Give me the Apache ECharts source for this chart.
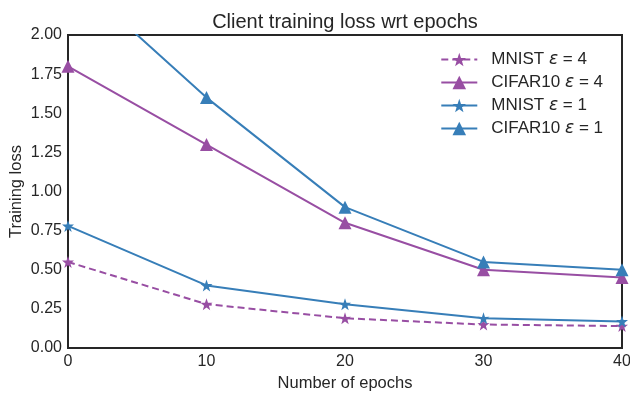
<!DOCTYPE html>
<html><head><meta charset="utf-8">
<script src="https://cdn.jsdelivr.net/npm/echarts@6/dist/echarts.min.js"></script>
<style>html,body{margin:0;padding:0;background:#fff}#c{width:630px;height:394px}</style>
</head><body><div id="c"></div>
<script>
const epochs = [0, 10, 20, 30, 40];
const mnistEps4 = [0.55, 0.28, 0.19, 0.15, 0.14];
const cifarEps4 = [1.80, 1.30, 0.80, 0.50, 0.45];
const mnistEps1 = [0.78, 0.40, 0.28, 0.19, 0.17];
const cifarEps1 = [2.40, 1.60, 0.90, 0.55, 0.50];
const yTicks = [0, 0.25, 0.5, 0.75, 1.0, 1.25, 1.5, 1.75, 2.0];
const names = ['MNIST ε4', 'CIFAR10 ε4', 'MNIST ε1', 'CIFAR10 ε1'];
const labels = {'MNIST ε4': ['MNIST ', '4'], 'CIFAR10 ε4': ['CIFAR10 ', '4'], 'MNIST ε1': ['MNIST ', '1'], 'CIFAR10 ε1': ['CIFAR10 ', '1']};

const PURPLE = '#984ea3', BLUE = '#377eb8';
const STAR = 'path://M50,0 L61.8,35.1 L97.6,34.5 L69,56.7 L79.4,90.5 L50,70 L20.6,90.5 L31,56.7 L2.4,34.5 L38.2,35.1 Z';
const font = 'Liberation Sans, Arial, sans-serif';

function pairs(vals) { return epochs.map((e, i) => [e, vals[i]]); }
function mk(name, vals, color, symbol, size, dashed) {
  return {
    name, type: 'line', data: pairs(vals), clip: true,
    symbol, symbolSize: size,
    lineStyle: { color, width: 2, type: dashed ? [7, 4] : 'solid' },
    itemStyle: { color },
    emphasis: { disabled: true }
  };
}

const chart = echarts.init(document.getElementById('c'), null, { renderer: 'canvas' });
chart.setOption({
  animation: false,
  backgroundColor: '#fff',
  title: { text: 'Client training loss wrt epochs', left: 340, top: 7, textAlign: 'center',
    textStyle: { fontFamily: font, fontSize: 20, fontWeight: 'normal', color: '#262626' } },
  grid: { left: 68, right: 8, top: 35, bottom: 46, containLabel: false, outerBoundsMode: 'none',
    show: true, borderColor: '#262626', borderWidth: 2, backgroundColor: 'transparent' },
  legend: {
    data: names, right: 22, top: 46, orient: 'vertical', itemGap: 6, itemWidth: 36, itemHeight: 17,
    textStyle: { fontFamily: font, fontSize: 17, color: '#262626',
      rich: { p: { fontFamily: font, fontSize: 17, color: '#262626', padding: [0, 0, 0, 9] },
              n: { fontFamily: font, fontSize: 17, color: '#262626' },
              e: { fontFamily: 'DejaVu Sans, sans-serif', fontStyle: 'italic', fontSize: 17, color: '#262626' } } },
    formatter: n => '{p|' + labels[n][0] + '}{e|ε}{n| = ' + labels[n][1] + '}'
  },
  xAxis: {
    type: 'value', min: 0, max: 40, interval: 10,
    name: 'Number of epochs', nameLocation: 'middle', nameGap: 25,
    nameTextStyle: { fontFamily: font, fontSize: 16.5, color: '#262626' },
    axisLine: { show: false }, axisTick: { show: false }, splitLine: { show: false },
    axisLabel: { fontFamily: font, fontSize: 16, color: '#262626', margin: 6 }
  },
  yAxis: {
    type: 'value', min: 0, max: 2, interval: 0.25,
    name: 'Training loss', nameLocation: 'middle', nameGap: 43, nameMoveOverlap: false,
    nameTextStyle: { fontFamily: font, fontSize: 16.5, color: '#262626' },
    axisLine: { show: false }, axisTick: { show: false }, splitLine: { show: false },
    axisLabel: { fontFamily: font, fontSize: 16, color: '#262626', margin: 6,
      formatter: v => v.toFixed(2) }
  },
  series: [
    mk(names[0], mnistEps4, PURPLE, STAR, 12, true),
    mk(names[1], cifarEps4, PURPLE, 'triangle', 13, false),
    mk(names[2], mnistEps1, BLUE, STAR, 12, false),
    mk(names[3], cifarEps1, BLUE, 'triangle', 13, false)
  ]
});
</script></body></html>
